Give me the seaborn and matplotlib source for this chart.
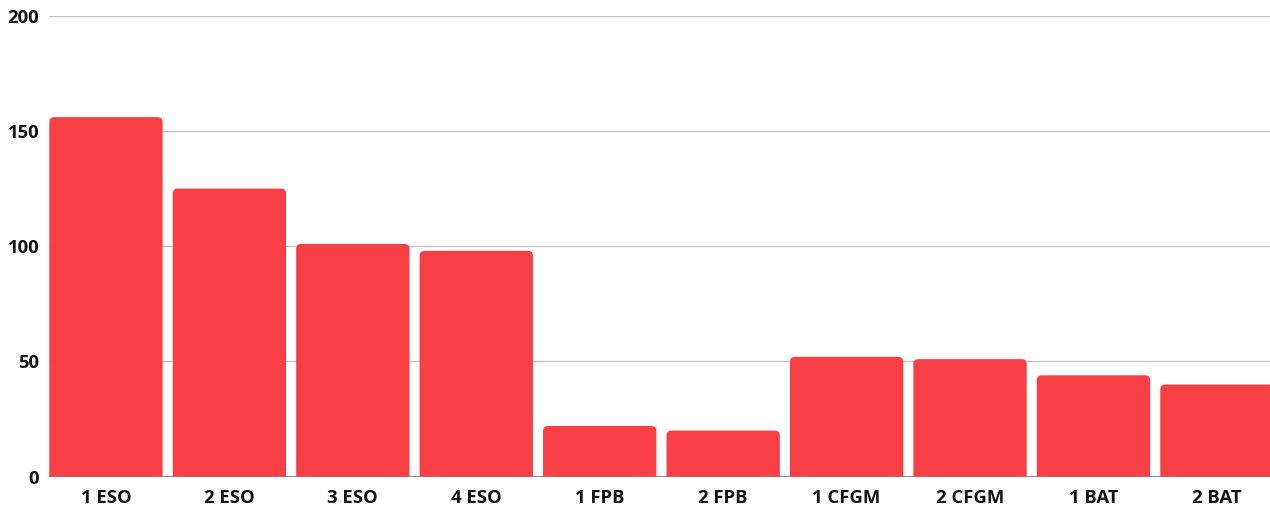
import numpy as np
import pandas as pd
import matplotlib
matplotlib.use("Agg")
import matplotlib.pyplot as plt
import seaborn as sns
from matplotlib.path import Path
from matplotlib.patches import PathPatch

# =========================
# DATA
# =========================
courses = ["1 ESO", "2 ESO", "3 ESO", "4 ESO", "1 FPB", "2 FPB",
           "1 CFGM", "2 CFGM", "1 BAT", "2 BAT"]
students = [156, 125, 101, 98, 22, 20, 52, 51, 44, 40]
y_ticks = [0, 50, 100, 150, 200]

BAR_COLOR = "#F93F46"

df = pd.DataFrame({"curso": courses, "alumnos": students})

# =========================
# PLOT
# =========================
sns.set_style("white")
plt.rcParams["font.family"] = ["Open Sans", "DejaVu Sans"]

fig = plt.figure(figsize=(12.7, 5.08), dpi=100)
ax = fig.add_axes([49.3 / 1270, 31.3 / 508, 1 - 49.3 / 1270, (476.7 - 15.7) / 508])

sns.barplot(data=df, x="curso", y="alumnos", color=BAR_COLOR,
            width=0.918, saturation=1, ax=ax, zorder=3)

ax.set_ylim(0, 200)
ax.set_xlim(-0.459, 9.43)

# rounded top corners (radius ~5px)
px_x = 1220.7 / (9.43 + 0.459)
px_y = 461.0 / 200
rx, ry = 5 / px_x, 5 / px_y
for p in list(ax.patches):
    x0, y0 = p.get_x(), p.get_y()
    w, h = p.get_width(), p.get_height()
    x1, y1 = x0 + w, y0 + h
    verts = [(x0, y0), (x0, y1 - ry), (x0, y1), (x0 + rx, y1),
             (x1 - rx, y1), (x1, y1), (x1, y1 - ry), (x1, y0), (x0, y0)]
    codes = [Path.MOVETO, Path.LINETO, Path.CURVE3, Path.CURVE3,
             Path.LINETO, Path.CURVE3, Path.CURVE3, Path.LINETO, Path.CLOSEPOLY]
    ax.add_patch(PathPatch(Path(verts, codes), facecolor=BAR_COLOR,
                           edgecolor="none", zorder=3))
    p.set_visible(False)

ax.set_yticks(y_ticks)
ax.yaxis.grid(True, color="#c4c4c4", linewidth=1, zorder=0)
ax.axhline(0, color="#777777", linewidth=1.2, zorder=2)

for s in ax.spines.values():
    s.set_visible(False)

ax.tick_params(axis="both", length=0, labelsize=13.3)
ax.tick_params(axis="y", pad=7.3)
ax.tick_params(axis="x", pad=8.5)
for lbl in ax.get_xticklabels() + ax.get_yticklabels():
    lbl.set_fontweight("bold")
    lbl.set_color("#111111")

ax.set_xlabel("")
ax.set_ylabel("")

fig.savefig("out.png", dpi=100)
